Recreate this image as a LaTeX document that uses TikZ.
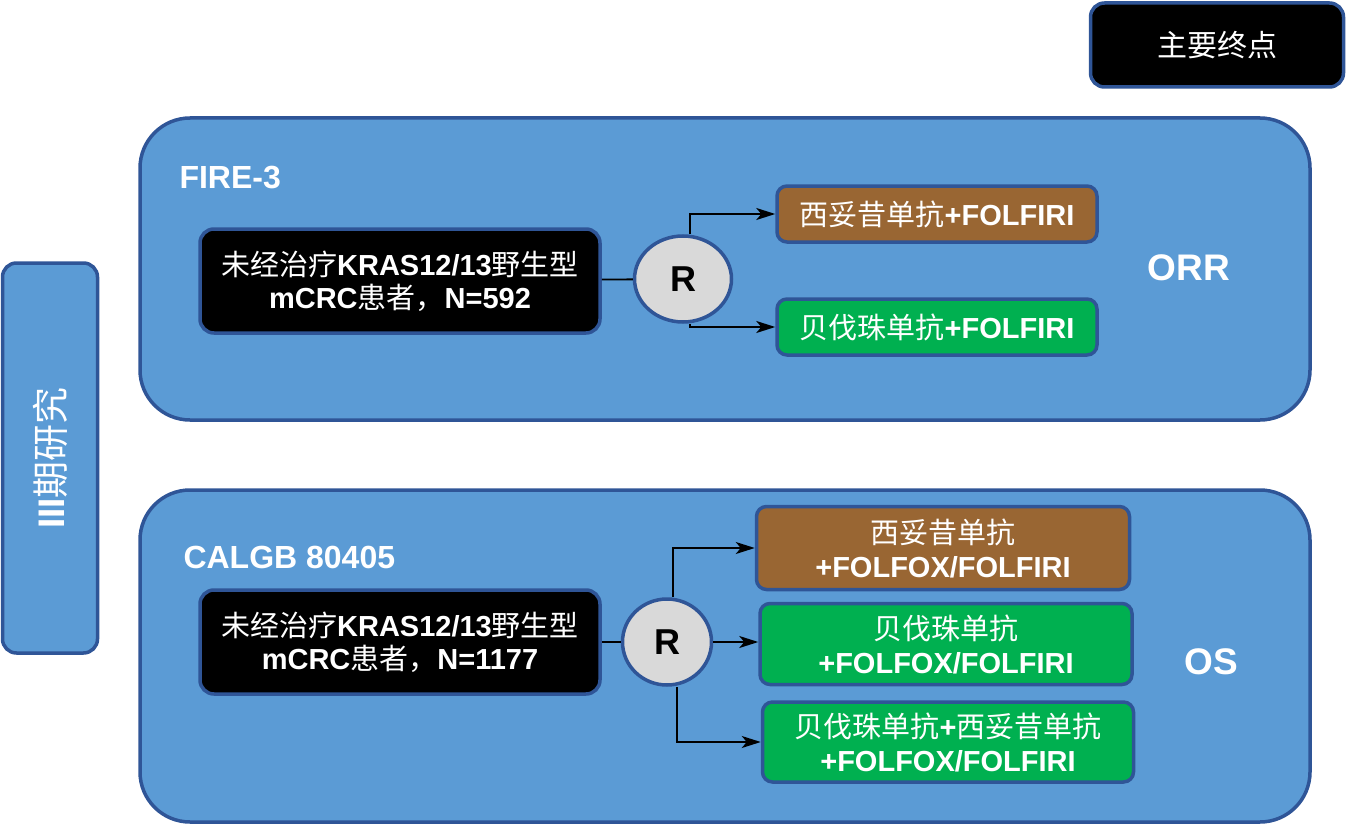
\documentclass[tikz,border=0pt]{standalone}
\usepackage{fontspec}
\setmainfont{Liberation Sans}
\newfontfamily\cjk{Noto Sans CJK SC}
\usetikzlibrary{shapes.geometric, arrows.meta, positioning}
\definecolor{panelblue}{HTML}{5B9BD5}
\definecolor{edgeblue}{HTML}{2F5597}
\definecolor{armbrown}{HTML}{996633}
\definecolor{armgreen}{HTML}{00B050}
\definecolor{randgray}{HTML}{D9D9D9}
\newcommand{\zh}[1]{{\cjk\mdseries #1}}

\begin{document}
\begin{tikzpicture}[x=1pt, y=-1pt, auto]
\tikzstyle{panel} = [rectangle, draw=edgeblue, line width=3.5pt, fill=panelblue, rounded corners=50pt]
\tikzstyle{darkbox} = [rectangle, draw=edgeblue, line width=3.5pt, fill=black, rounded corners=14pt, text=white, align=center, font=\bfseries\fontsize{29}{33}\selectfont]
\tikzstyle{arm} = [rectangle, draw=edgeblue, line width=3.5pt, rounded corners=10pt, text=white, align=center, font=\bfseries\fontsize{29}{34}\selectfont]
\tikzstyle{rand} = [ellipse, draw=edgeblue, line width=3.5pt, fill=randgray, inner sep=0pt, minimum height=86pt, font=\bfseries\fontsize{36}{36}\selectfont]
\tikzstyle{title} = [text=white, font=\bfseries\fontsize{32}{32}\selectfont]
\tikzstyle{line} = [draw, line width=1.8pt, -{Stealth[length=19pt, width=12pt, inset=5pt]}]

\useasboundingbox (0,0) rectangle (1347,824);

% header and side label
\node [darkbox, font=\fontsize{30}{30}\selectfont, minimum width=253pt, minimum height=84pt] (endpoint) at (1217,45) {\zh{主要终点}};
\node [panel, rounded corners=14pt, minimum width=95pt, minimum height=390pt] (phase) at (50,458) {};
\node [title, font=\bfseries\fontsize{37}{37}\selectfont, rotate=90] (phaselabel) at (phase) {III\zh{期研究}};

% FIRE-3
\node [panel, minimum width=1170pt, minimum height=302pt] (fire) at (725,269) {};
\node [title, anchor=west] (firename) at (176,178) {FIRE-3};
\node [darkbox, minimum width=400pt, minimum height=104pt] (firept) at (400,281) {\zh{未经治疗}KRAS12/13\zh{野生型}\\mCRC\zh{患者，}N=592};
\node [rand, minimum width=97pt] (firer) at (683,279) {R};
\node [arm, fill=armbrown, minimum width=320pt, minimum height=56pt] (firecet) at (937,214) {\zh{西妥昔单抗}+FOLFIRI};
\node [arm, fill=armgreen, minimum width=320pt, minimum height=56pt] (firebev) at (937,327) {\zh{贝伐珠单抗}+FOLFIRI};
\node [title, font=\bfseries\fontsize{37}{37}\selectfont] (orr) at (1189,268) {ORR};

\draw [line width=1.8pt] (firept) -- (firer);
\draw [line] ([xshift=7pt]firer.north) |- (firecet.west);
\draw [line] ([xshift=7pt]firer.south) |- (firebev.west);

% CALGB 80405
\node [panel, minimum width=1170pt, minimum height=332pt] (calgb) at (725,656) {};
\node [title, anchor=west] (calgbname) at (180,557) {CALGB 80405};
\node [darkbox, minimum width=400pt, minimum height=104pt] (calgbpt) at (400,642) {\zh{未经治疗}KRAS12/13\zh{野生型}\\mCRC\zh{患者，}N=1177};
\node [rand, minimum width=89pt] (calgbr) at (667,642) {R};
\node [arm, fill=armbrown, minimum width=373pt, minimum height=83pt] (calgbcet) at (943,548) {\zh{西妥昔单抗}\\+FOLFOX/FOLFIRI};
\node [arm, fill=armgreen, minimum width=372pt, minimum height=81pt] (calgbbev) at (946,644) {\zh{贝伐珠单抗}\\+FOLFOX/FOLFIRI};
\node [arm, fill=armgreen, minimum width=371pt, minimum height=80pt] (calgbboth) at (948,742) {\zh{贝伐珠单抗}+\zh{西妥昔单抗}\\+FOLFOX/FOLFIRI};
\node [title, font=\bfseries\fontsize{37}{37}\selectfont] (os) at (1211,662) {OS};

\draw [line width=1.8pt] (calgbpt) -- (calgbr);
\draw [line] ([xshift=6pt]calgbr.north) |- (calgbcet.west);
\draw [line] (calgbr.east) -- (calgbr.east -| calgbbev.west);
\draw [line] ([xshift=10pt]calgbr.south) |- (calgbboth.west);
\end{tikzpicture}
\end{document}
